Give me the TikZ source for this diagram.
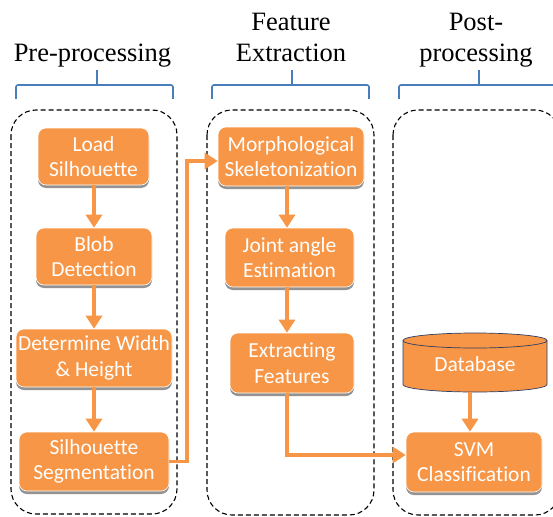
\documentclass[tikz,border=0pt]{standalone}
\usepackage{fontspec}
\setmainfont{Liberation Serif}
\newfontfamily\boxfont[Ligatures={NoCommon}]{Carlito}
\usetikzlibrary{arrows.meta,shadows,calc}
\definecolor{acc}{HTML}{F79646}
\definecolor{brc}{HTML}{4A7EBB}
\definecolor{cyl}{HTML}{2C3E64}
\begin{document}
\begin{tikzpicture}[x=1pt,y=-1pt,
 stage/.style={draw=black, dash pattern=on 5pt off 3pt, line width=1.1pt, rounded corners=25pt},
 brace/.style={draw=brc, line width=1.6pt, rounded corners=2pt},
 title/.style={font=\fontsize{26.5}{31}\selectfont, align=center, inner sep=0pt},
 proc/.style={rectangle, rounded corners=8pt, fill=acc, draw=white, line width=0.6pt, text=white,
   font=\boxfont\fontsize{21.5}{25.5}\selectfont, align=center, inner sep=0pt,
   drop shadow={shadow xshift=0pt, shadow yshift=-3pt, fill=black!70, opacity=0.6}},
 flow/.style={draw=acc, line width=3.5pt, -{Triangle[width=16pt,length=13pt]}},
]
\useasboundingbox[fill=white] (0,0) rectangle (553,516);

% titles
\node[title, anchor=base] (t1) at (92.5,61.5) {Pre-processing};
\node[title, anchor=north] (t2) at (291,13) {Feature\\Extraction};
\node[title, anchor=north] (t3) at (476,13) {Post-\\processing};

% braces
\draw[brace] (16,99) -- (16,85) -- (173,85) -- (173,99);
\draw[brace] (97,85) -- (97,70);
\draw[brace] (212,99) -- (212,85) -- (369,85) -- (369,99);
\draw[brace] (292,85) -- (292,70);
\draw[brace] (399,99) -- (399,85) -- (580,85);
\draw[brace] (479,85) -- (479,70);

% stages
\draw[stage] (11,110) rectangle (177,514);
\draw[stage] (207,110) rectangle (374,515);
\draw[stage] (393,110) rectangle (560,515);

% boxes
\node[proc, minimum width=111pt, minimum height=57pt] (load) at (93.5,156.5) {Load\\Silhouette};
\node[proc, minimum width=116pt, minimum height=57pt] (blob) at (94,256.5) {Blob\\Detection};
\node[proc, minimum width=156pt, minimum height=58pt] (dwh) at (94,358) {Determine Width\\\& Height};
\node[proc, minimum width=150pt, minimum height=59pt] (seg) at (94,461.5) {Silhouette\\Segmentation};
\node[proc, minimum width=146pt, minimum height=59pt] (morph) at (291,156.5) {Morphological\\Skeletonization};
\node[proc, minimum width=129pt, minimum height=59pt] (joint) at (289.5,257.5) {Joint angle\\Estimation};
\node[proc, minimum width=124pt, minimum height=60pt] (extr) at (292,363) {Extracting\\Features};
\node[proc, minimum width=136pt, minimum height=60pt] (svm) at (474,462) {SVM\\Classification};

% database cylinder
\fill[acc] (403,340.5) -- (403,384.5)
  arc[start angle=180, end angle=360, x radius=72pt, y radius=7.5pt] -- (547,340.5)
  arc[start angle=0, end angle=180, x radius=72pt, y radius=7.5pt] -- cycle;
\draw[cyl, line width=0.7pt] (403,340.5) -- (403,384.5)
  arc[start angle=180, end angle=360, x radius=72pt, y radius=7.5pt] -- (547,340.5);
\draw[cyl, line width=0.7pt] (475,340.5) ellipse[x radius=72pt, y radius=7.5pt];
\node[inner sep=0pt, minimum width=144pt, minimum height=56pt, text=white,
  font=\boxfont\fontsize{21.5}{25.5}\selectfont] (db) at (475,364) {Database};

% connectors
\coordinate (mx) at (287,0);
\coordinate (turn1) at (187,161);
\coordinate (turn2) at (287,455);
\draw[flow] (load.south -| blob) -- (blob.north);
\draw[flow] (blob.south) -- (dwh.north -| blob);
\draw[flow] (dwh.south) -- (seg.north -| dwh);
\draw[flow] (morph.south -| mx) -- (joint.north -| mx);
\draw[flow] (joint.south -| mx) -- (extr.north -| mx);
\draw[flow] (seg.east) -| (turn1) -- (turn1 -| morph.west);
\draw[flow] (extr.south -| turn2) -- (turn2) -- (turn2 -| svm.west);
\draw[flow] (db.south -| 470,0) -- (svm.north -| 470,0);
\end{tikzpicture}
\end{document}
